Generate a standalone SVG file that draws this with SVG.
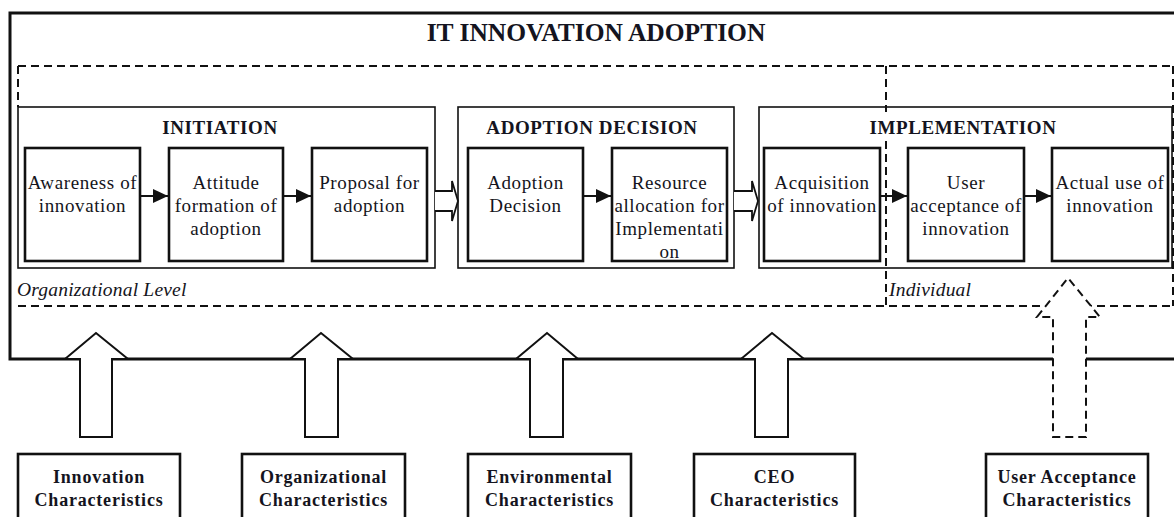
<svg xmlns="http://www.w3.org/2000/svg" width="1174" height="517" viewBox="0 0 1174 517">
<style>
text{font-family:'Liberation Serif','DejaVu Serif',serif}
.t{fill:#141420;text-anchor:middle}
.title{font-size:25.5px;font-weight:bold}
.stage{font-size:19px;font-weight:bold;letter-spacing:0.6px}
.nt{font-size:19px;letter-spacing:0.6px}
.lvl{font-size:19.5px;font-style:italic;fill:#141420;letter-spacing:0.2px}
.fac{font-size:18px;font-weight:bold;letter-spacing:0.8px}
.stagebox{fill:none;stroke:#111;stroke-width:1.6}
.node{fill:#fff;stroke:#111;stroke-width:2.6}
.dash{fill:none;stroke:#111;stroke-width:2;stroke-dasharray:8 5}
.conn{fill:none;stroke:#111;stroke-width:2}
.hollow{fill:#fff;stroke:#111;stroke-width:1.8;stroke-linejoin:miter}
.big{fill:#fff;stroke:#111;stroke-width:2}
.fbox{fill:#fff;stroke:#111;stroke-width:2.6}
</style>
<defs>
<marker id="ah" markerUnits="userSpaceOnUse" markerWidth="16" markerHeight="14" refX="15" refY="7" orient="auto">
<path d="M0,0 L15,7 L0,14 Z" fill="#111"/>
</marker>
</defs>
<rect width="1174" height="517" fill="#fff"/>

<g id="outer">
<rect x="10" y="13" width="1175" height="346" fill="none" stroke="#111" stroke-width="3"/>
<text class="t title" x="596" y="41">IT INNOVATION ADOPTION</text>
</g>

<g id="levels">
<path class="dash" d="M18,66 H1173 M18,66 V107 M1173,66 V306 M18,306 H1173 M886,66 V112 M886,141 V306"/>
<text class="lvl" x="17" y="296">Organizational Level</text>
<text class="lvl" x="889" y="296">Individual</text>
</g>

<g id="stage-initiation">
<rect class="stagebox" x="18" y="107" width="417" height="161"/>
<text class="t stage" x="220" y="134">INITIATION</text>
</g>
<g id="stage-adoption-decision">
<rect class="stagebox" x="458" y="107" width="276" height="161"/>
<text class="t stage" x="592" y="134">ADOPTION DECISION</text>
</g>
<g id="stage-implementation">
<rect class="stagebox" x="759" y="107" width="413" height="161"/>
<text class="t stage" x="963" y="134">IMPLEMENTATION</text>
</g>

<g id="n-awareness">
<rect class="node" x="25" y="148" width="115" height="113"/>
<text class="t nt" x="82.5" y="189">Awareness of</text>
<text class="t nt" x="82.5" y="212">innovation</text>
</g>
<g id="n-attitude">
<rect class="node" x="169" y="148" width="114" height="113"/>
<text class="t nt" x="226" y="189">Attitude</text>
<text class="t nt" x="226" y="212">formation of</text>
<text class="t nt" x="226" y="235">adoption</text>
</g>
<g id="n-proposal">
<rect class="node" x="312" y="148" width="115" height="113"/>
<text class="t nt" x="369.5" y="189">Proposal for</text>
<text class="t nt" x="369.5" y="212">adoption</text>
</g>
<g id="n-adoption-decision">
<rect class="node" x="468" y="148" width="115" height="113"/>
<text class="t nt" x="525.5" y="189">Adoption</text>
<text class="t nt" x="525.5" y="212">Decision</text>
</g>
<g id="n-resource">
<rect class="node" x="612" y="148" width="115" height="113"/>
<text class="t nt" x="669.5" y="189">Resource</text>
<text class="t nt" x="669.5" y="212">allocation for</text>
<text class="t nt" x="669.5" y="235">Implementati</text>
<text class="t nt" x="669.5" y="258">on</text>
</g>
<g id="n-acquisition">
<rect class="node" x="764" y="148" width="116" height="113"/>
<text class="t nt" x="822" y="189">Acquisition</text>
<text class="t nt" x="822" y="212">of innovation</text>
</g>
<g id="n-user-acceptance">
<rect class="node" x="908" y="148" width="116" height="113"/>
<text class="t nt" x="966" y="189">User</text>
<text class="t nt" x="966" y="212">acceptance of</text>
<text class="t nt" x="966" y="235">innovation</text>
</g>
<g id="n-actual-use">
<rect class="node" x="1052" y="148" width="116" height="113"/>
<text class="t nt" x="1110" y="189">Actual use of</text>
<text class="t nt" x="1110" y="212">innovation</text>
</g>

<g id="connectors">
<line class="conn" x1="140" y1="196" x2="168" y2="196" marker-end="url(#ah)"/>
<line class="conn" x1="283" y1="196" x2="311" y2="196" marker-end="url(#ah)"/>
<line class="conn" x1="583" y1="196" x2="611" y2="196" marker-end="url(#ah)"/>
<line class="conn" x1="880" y1="196" x2="907" y2="196" marker-end="url(#ah)"/>
<line class="conn" x1="1024" y1="196" x2="1051" y2="196" marker-end="url(#ah)"/>
<path class="hollow" d="M435,191 H452 V181 L458,201 L452,221 V211 H435"/>
<path class="hollow" d="M734,191 H752 V181 L758,201 L752,221 V211 H734"/>
<path class="big" d="M65,359 L96,333 L128,359 H112 V437 H80 V359 Z"/>
<path class="big" d="M290,359 L321,333 L353,359 H338 V437 H305 V359 Z"/>
<path class="big" d="M516,359 L547,333 L578,359 H563 V437 H530 V359 Z"/>
<path class="big" d="M741,359 L772,333 L804,359 H788 V437 H755 V359 Z"/>
<path d="M1037,317 L1068,278 L1100,317 H1086 V437 H1053 V317 Z" fill="#fff" stroke="#111" stroke-width="2" stroke-dasharray="8 5"/>
</g>

<g id="f-innovation">
<rect class="fbox" x="18" y="454" width="162" height="80"/>
<text class="t fac" x="99" y="483">Innovation</text>
<text class="t fac" x="99" y="506">Characteristics</text>
</g>
<g id="f-organizational">
<rect class="fbox" x="242" y="454" width="163" height="80"/>
<text class="t fac" x="323.5" y="483">Organizational</text>
<text class="t fac" x="323.5" y="506">Characteristics</text>
</g>
<g id="f-environmental">
<rect class="fbox" x="468" y="454" width="163" height="80"/>
<text class="t fac" x="549.5" y="483">Environmental</text>
<text class="t fac" x="549.5" y="506">Characteristics</text>
</g>
<g id="f-ceo">
<rect class="fbox" x="694" y="454" width="161" height="80"/>
<text class="t fac" x="774.5" y="483">CEO</text>
<text class="t fac" x="774.5" y="506">Characteristics</text>
</g>
<g id="f-user-acceptance">
<rect class="fbox" x="986" y="454" width="162" height="80"/>
<text class="t fac" x="1067" y="483">User Acceptance</text>
<text class="t fac" x="1067" y="506">Characteristics</text>
</g>
</svg>
